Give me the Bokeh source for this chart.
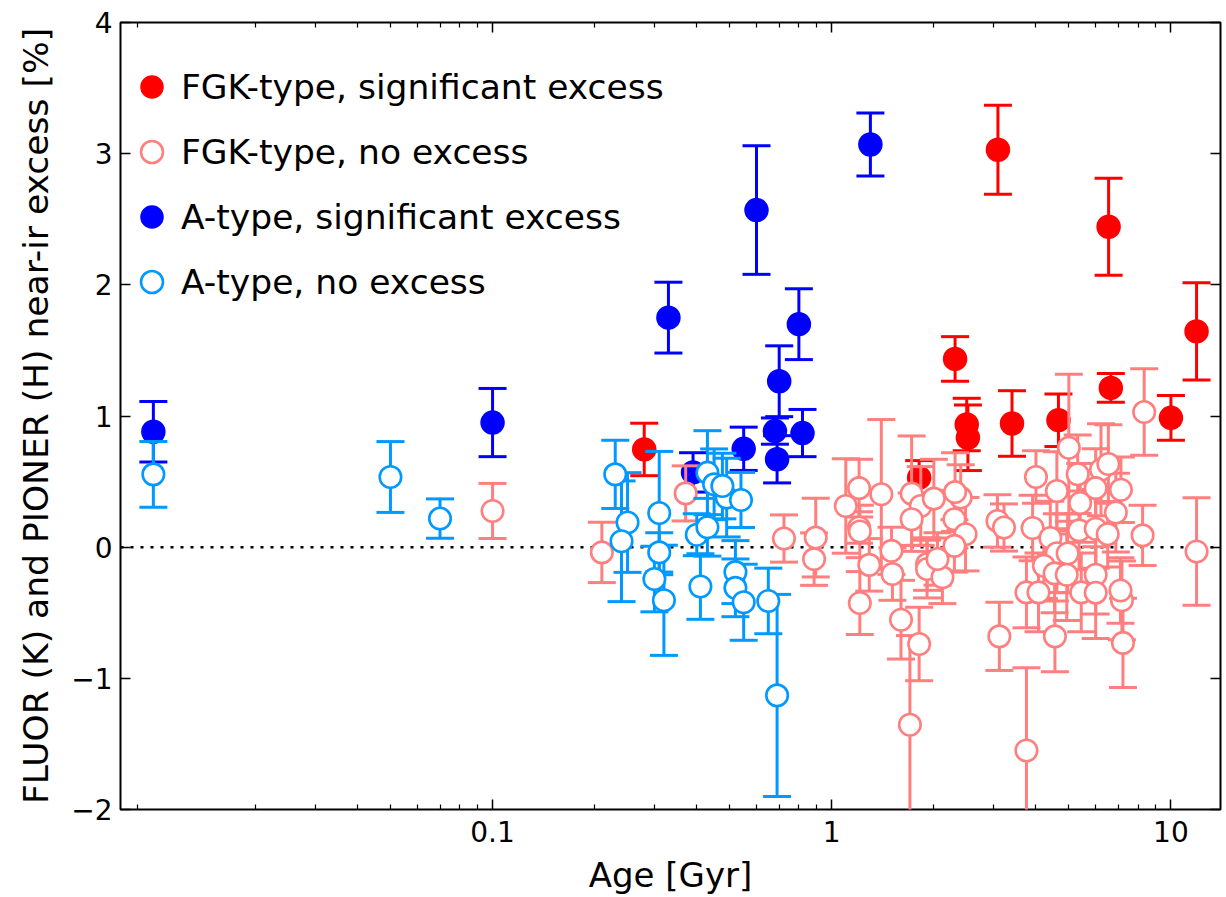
import numpy as np
from bokeh.plotting import figure
from bokeh.models import (FixedTicker, LogAxis, LinearAxis, Span, Legend, LegendItem,
                          Range1d, CustomJSTickFormatter)
from bokeh.embed import file_html
from bokeh.resources import INLINE

# ---------------- data ----------------
# FGK-type, significant excess
fgk_sig_age = [0.28, 1.81, 2.31, 2.50, 2.52, 3.09, 3.40, 4.66, 6.55, 6.65, 10.0, 11.9]
fgk_sig_val = [0.745, 0.53, 1.435, 0.935, 0.834, 3.03, 0.943, 0.968, 2.443, 1.214, 0.986, 1.645]
fgk_sig_err = [0.20, 0.13, 0.17, 0.20, 0.25, 0.34, 0.25, 0.20, 0.37, 0.11, 0.17, 0.37]

# FGK-type, no excess
fgk_no_age = [0.10, 0.21, 0.371, 0.723, 0.897, 0.887, 1.10, 1.204, 1.204, 1.21, 1.29,
              1.40, 1.72, 1.83, 1.72, 2.00, 2.30, 2.40, 2.31, 2.48, 2.30, 1.50, 1.51,
              1.91, 1.91, 2.12, 2.05, 1.21, 1.60, 1.81, 1.70, 3.08, 3.22, 3.12, 3.75,
              4.55, 7.22, 7.17, 7.10, 11.9, 8.34, 8.25, 5.0, 4.0, 5.31, 4.61, 5.40,
              6.22, 6.54, 6.0, 7.12, 6.88, 3.91, 5.36, 6.0, 6.51, 4.41, 4.61, 4.96,
              4.22, 4.54, 4.93, 6.0, 3.75, 4.07, 5.44, 6.0]
fgk_no_val = [0.276, -0.04, 0.41, 0.066, 0.073, -0.091, 0.314, 0.45, 0.15, 0.12, -0.135,
              0.403, 0.408, 0.314, 0.213, 0.37, 0.213, 0.378, 0.42, 0.099, 0.01, -0.028, -0.205,
              -0.129, -0.167, -0.23, -0.09, -0.426, -0.553, -0.738, -1.354, 0.20, 0.15, -0.68, -1.55,
              -0.68, -0.73, -0.405, -0.33, -0.033, 1.03, 0.09, 0.758, 0.535, 0.556, 0.428, 0.337,
              0.59, 0.634, 0.45, 0.438, 0.264, 0.146, 0.128, 0.14, 0.099, 0.07, -0.046, -0.048,
              -0.142, -0.20, -0.21, -0.21, -0.345, -0.345, -0.345, -0.347]
fgk_no_err = [0.21, 0.23, 0.21, 0.18, 0.30, 0.20, 0.36, 0.22, 0.12, 0.20, 0.20,
              0.57, 0.44, 0.30, 0.20, 0.30, 0.22, 0.25, 0.30, 0.28, 0.20, 0.18, 0.20,
              0.20, 0.22, 0.20, 0.20, 0.24, 0.30, 0.28, 0.68, 0.20, 0.18, 0.26, 0.63,
              0.27, 0.34, 0.30, 0.25, 0.41, 0.33, 0.23, 0.56, 0.20, 0.30, 0.30, 0.30,
              0.35, 0.30, 0.30, 0.25, 0.30, 0.25, 0.30, 0.30, 0.25, 0.28, 0.30, 0.30,
              0.25, 0.30, 0.35, 0.30, 0.27, 0.30, 0.30, 0.35]

# A-type, significant excess
a_sig_age = [0.01, 0.10, 0.33, 0.39, 0.55, 0.60, 0.68, 0.69, 0.70, 0.80, 0.82, 1.30]
a_sig_val = [0.88, 0.95, 1.75, 0.57, 0.75, 2.57, 0.885, 0.67, 1.265, 1.70, 0.87, 3.07]
a_sig_err = [0.23, 0.26, 0.27, 0.15, 0.165, 0.49, 0.10, 0.18, 0.27, 0.27, 0.18, 0.24]

# A-type, no excess
a_no_age = [0.01, 0.05, 0.07, 0.23, 0.25, 0.24, 0.31, 0.31, 0.30, 0.32, 0.40, 0.43,
            0.45, 0.43, 0.41, 0.49, 0.54, 0.52, 0.52, 0.55, 0.65, 0.69, 0.476]
a_no_val = [0.555, 0.535, 0.218, 0.555, 0.188, 0.045, 0.26, -0.04, -0.243, -0.405, 0.095, 0.568,
            0.479, 0.152, -0.30, 0.378, 0.36, -0.19, -0.31, -0.42, -0.41, -1.13, 0.466]
a_no_err = [0.25, 0.27, 0.15, 0.26, 0.38, 0.46, 0.47, 0.15, 0.25, 0.42, 0.16, 0.32,
            0.27, 0.22, 0.25, 0.30, 0.21, 0.24, 0.22, 0.29, 0.25, 0.77, 0.25]

x_ticks = [0.1, 1, 10]
x_minor = [0.009, 0.02, 0.03, 0.04, 0.05, 0.06, 0.07, 0.08, 0.09,
           0.2, 0.3, 0.4, 0.5, 0.6, 0.7, 0.8, 0.9,
           2, 3, 4, 5, 6, 7, 8, 9]
y_ticks = [-2, -1, 0, 1, 2, 3, 4]

labels = ["FGK-type, significant excess", "FGK-type, no excess",
          "A-type, significant excess", "A-type, no excess"]

RED = "#ff0000"
LRED = "#ff7f7f"
BLUE = "#0000ff"
LBLUE = "#0099ff"
FONT = "DejaVu Sans"

p = figure(width=1226, height=897, x_axis_type="log",
           x_range=Range1d(0.008, 14), y_range=Range1d(-2, 4),
           output_backend="svg", toolbar_location=None,
           min_border_left=120, min_border_right=6, min_border_top=22, min_border_bottom=87)
p.grid.visible = False
p.outline_line_color = "black"
p.outline_line_width = 2
p.background_fill_color = "white"
p.border_fill_color = "white"

xticker = FixedTicker(ticks=x_ticks, minor_ticks=x_minor)
yticker = FixedTicker(ticks=y_ticks, minor_ticks=[])
fmt = CustomJSTickFormatter(code="""
if (tick < 0) { return "\\u2212" + Math.abs(tick).toString(); }
return tick.toString();
""")
blank = CustomJSTickFormatter(code="return '';")

def style_axis(ax, show_labels=True):
    ax.axis_line_color = None
    ax.major_tick_in = 10
    ax.major_tick_out = 0
    ax.minor_tick_in = 5
    ax.minor_tick_out = 0
    ax.major_tick_line_color = "black"
    ax.minor_tick_line_color = "black"
    ax.major_tick_line_width = 1.5
    ax.minor_tick_line_width = 1.2
    if show_labels:
        ax.major_label_text_font = FONT
        ax.major_label_text_font_size = "28px"
        ax.major_label_text_color = "black"
        ax.axis_label_text_font = FONT
        ax.axis_label_text_font_size = "34.5px"
        ax.axis_label_text_font_style = "normal"
        ax.axis_label_text_color = "black"
    else:
        ax.major_label_standoff = 0

xa = p.xaxis[0]
xa.ticker = xticker
xa.formatter = fmt
xa.axis_label = "Age [Gyr]"
style_axis(xa)
xa.major_label_standoff = 11
xa.axis_label_standoff = 10
xa.axis_label_text_font_size = "34px"

ya = p.yaxis[0]
ya.ticker = yticker
ya.formatter = fmt
ya.axis_label = "FLUOR (K) and PIONER (H) near-ir excess [%]"
style_axis(ya)
ya.major_label_standoff = 8
ya.axis_label_standoff = 12

top = LogAxis(ticker=xticker, formatter=blank)
style_axis(top, show_labels=False)
p.add_layout(top, "above")
right = LinearAxis(ticker=yticker, formatter=blank)
style_axis(right, show_labels=False)
p.add_layout(right, "right")
right.minor_tick_in = 0

zero = Span(location=0, dimension="width", line_color="black", line_width=2.5,
            line_dash="3 7", level="underlay")
p.add_layout(zero)


def series(age, val, err, color, filled):
    age = np.asarray(age, dtype=float)
    val = np.asarray(val, dtype=float)
    err = np.asarray(err, dtype=float)
    lo = val - err
    hi = val + err
    p.segment(x0=age, y0=lo, x1=age, y1=hi, line_color=color, line_width=3)
    p.scatter(x=np.concatenate([age, age]), y=np.concatenate([lo, hi]), marker="dash",
              size=28, line_color=color, line_width=3)
    if filled:
        r = p.scatter(x=age, y=val, marker="circle", size=23, fill_color=color,
                      line_color=color, line_width=1.5)
    else:
        r = p.scatter(x=age, y=val, marker="circle", size=21.5, fill_color="white",
                      line_color=color, line_width=2.6)
    return r

r1 = series(fgk_sig_age, fgk_sig_val, fgk_sig_err, RED, True)
r3 = series(a_sig_age, a_sig_val, a_sig_err, BLUE, True)
r2 = series(fgk_no_age, fgk_no_val, fgk_no_err, LRED, False)
r4 = series(a_no_age, a_no_val, a_no_err, LBLUE, False)

legend = Legend(items=[LegendItem(label=labels[0], renderers=[r1]),
                       LegendItem(label=labels[1], renderers=[r2]),
                       LegendItem(label=labels[2], renderers=[r3]),
                       LegendItem(label=labels[3], renderers=[r4])],
                location=(4, 500), orientation="vertical",
                border_line_color=None, background_fill_alpha=0,
                label_text_font=FONT, label_text_font_size="34.5px",
                label_text_color="black",
                glyph_width=55, glyph_height=55, label_height=55,
                spacing=10, padding=0, margin=0, label_standoff=2)
p.add_layout(legend)

open("out.html", "w").write(file_html(p, INLINE))
